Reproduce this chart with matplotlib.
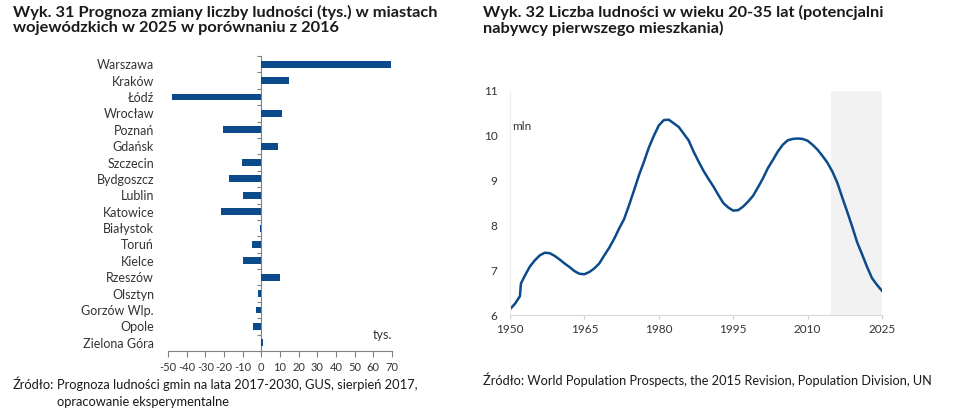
import matplotlib
matplotlib.use("Agg")
import matplotlib.pyplot as plt
import numpy as np

plt.rcParams["font.family"] = ["Lato", "DejaVu Sans"]

# Wyk. 31 - change in population of voivodeship cities, 2025 vs 2016 (thousands)
cities = ["Warszawa", "Kraków", "Łódź", "Wrocław", "Poznań", "Gdańsk", "Szczecin",
          "Bydgoszcz", "Lublin", "Katowice", "Białystok", "Toruń", "Kielce",
          "Rzeszów", "Olsztyn", "Gorzów Wlp.", "Opole", "Zielona Góra"]
change = [69.5, 14.8, -47.7, 11.3, -20.4, 8.9, -10.2, -17.3, -9.6, -21.4,
          -0.7, -4.8, -9.6, 10.0, -1.8, -3.0, -4.3, 1.1]
bar_ticks = list(range(-50, 71, 10))

# Wyk. 32 - population aged 20-35 (mln)
years = [1950, 1951, 1952, 1952.2, 1953, 1954, 1955, 1956, 1957, 1958, 1959,
         1960, 1961, 1962, 1963, 1964, 1965, 1966, 1967, 1968, 1969,
         1970, 1971, 1972, 1973, 1974, 1975, 1976, 1977, 1978, 1979,
         1980, 1981, 1982, 1983, 1984, 1985, 1986, 1987, 1988, 1989,
         1990, 1991, 1992, 1993, 1994, 1995, 1996, 1997, 1998, 1999,
         2000, 2001, 2002, 2003, 2004, 2005, 2006, 2007, 2008, 2009,
         2010, 2011, 2012, 2013, 2014, 2015, 2016, 2017, 2018, 2019,
         2020, 2021, 2022, 2023, 2024, 2025]
pop = [6.13, 6.25, 6.42, 6.70, 6.88, 7.08, 7.22, 7.33, 7.39, 7.38, 7.32,
       7.24, 7.15, 7.07, 6.98, 6.92, 6.91, 6.96, 7.04, 7.15, 7.33,
       7.50, 7.70, 7.93, 8.14, 8.45, 8.78, 9.12, 9.42, 9.74, 10.00,
       10.23, 10.35, 10.36, 10.28, 10.20, 10.05, 9.90, 9.65, 9.43, 9.22,
       9.04, 8.87, 8.68, 8.50, 8.40, 8.33, 8.34, 8.42, 8.53, 8.66,
       8.85, 9.05, 9.28, 9.46, 9.65, 9.80, 9.90, 9.93, 9.94, 9.93,
       9.89, 9.80, 9.69, 9.55, 9.40, 9.20, 8.95, 8.62, 8.30, 7.97,
       7.62, 7.35, 7.07, 6.82, 6.67, 6.54]
year_ticks = [1950, 1965, 1980, 1995, 2010, 2025]
forecast_start = 2014.7

BLUE = "#0B4A8B"
TXT = "#1a1a1a"
W, H = 955, 411

fig = plt.figure(figsize=(W / 100, H / 100), dpi=100)

def px_axes(left, top, right, bottom):
    return fig.add_axes([left / W, 1 - bottom / H, (right - left) / W, (bottom - top) / H])

# ---------------- left panel ----------------
ax1 = px_axes(168, 56, 392, 351)
y = np.arange(len(cities))
ax1.barh(y, change, height=0.42, color=BLUE)
ax1.set_ylim(len(cities) - 0.5, -0.5)
ax1.set_xlim(-50, 70)
ax1.set_yticks(y)
ax1.set_yticklabels(cities, fontsize=9, color="#333333")
ax1.tick_params(axis="y", length=0, pad=10)
ax1.set_xticks(bar_ticks)
ax1.set_xticklabels([str(t) for t in bar_ticks], fontsize=8, color="#333333")
ax1.tick_params(axis="x", length=4, color="#808080", pad=4)
for s in ["top", "right", "left"]:
    ax1.spines[s].set_visible(False)
ax1.spines["bottom"].set_color("#808080")

# zero line with category-boundary ticks
sec = ax1.secondary_yaxis(50 / 120)
sec.spines["left"].set_color("#808080")
sec.set_yticks(np.arange(-0.5, len(cities), 1.0))
sec.set_yticklabels([])
sec.tick_params(axis="y", length=3, color="#808080")

ax1.text(70, 16.55, "tys.", ha="right", va="center", fontsize=9, color="#333333")

# ---------------- right panel ----------------
ax2 = px_axes(510, 91, 882, 315)
ax2.axvspan(forecast_start, 2025, color="#f2f2f2", lw=0, zorder=0)
ax2.plot(years, pop, color=BLUE, lw=1.8, zorder=2)
ax2.set_xlim(1950, 2025)
ax2.set_ylim(6, 11)
ax2.set_xticks(year_ticks)
ax2.set_yticks(range(6, 12))
ax2.tick_params(axis="x", length=3, color="#d0d0d0", labelsize=8.5, labelcolor="#333333")
ax2.tick_params(axis="y", length=0, pad=9, labelsize=8.5, labelcolor="#333333")
for s in ["top", "right"]:
    ax2.spines[s].set_visible(False)
ax2.spines["left"].set_color("#ececec")
ax2.spines["bottom"].set_color("#d9d9d9")
ax2.text(0.006, 0.84, "mln", transform=ax2.transAxes, fontsize=8.5, color="#333333", va="center")

# ---------------- titles and sources ----------------
fig.text(13 / W, 1 - 5 / H,
         "Wyk. 31 Prognoza zmiany liczby ludności (tys.) w miastach\n"
         "wojewódzkich w 2025 w porównaniu z 2016",
         fontsize=11.8, fontweight="bold", color=TXT, va="top", linespacing=1.1)
fig.text(483 / W, 1 - 5 / H,
         "Wyk. 32 Liczba ludności w wieku 20-35 lat (potencjalni\n"
         "nabywcy pierwszego mieszkania)",
         fontsize=11.8, fontweight="bold", color=TXT, va="top", linespacing=1.1)

fig.text(13 / W, 1 - 385 / H, "Źródło:", fontsize=9.3, color=TXT, va="center")
fig.text(57 / W, 1 - 385 / H, "Prognoza ludności gmin na lata 2017-2030, GUS, sierpień 2017,",
         fontsize=9.3, color=TXT, va="center")
fig.text(57 / W, 1 - 402 / H, "opracowanie eksperymentalne", fontsize=9.3, color=TXT, va="center")
fig.text(483 / W, 1 - 380 / H,
         "Źródło: World Population Prospects, the 2015 Revision, Population Division, UN",
         fontsize=9.2, color=TXT, va="center")

fig.savefig("out.png", dpi=100)
